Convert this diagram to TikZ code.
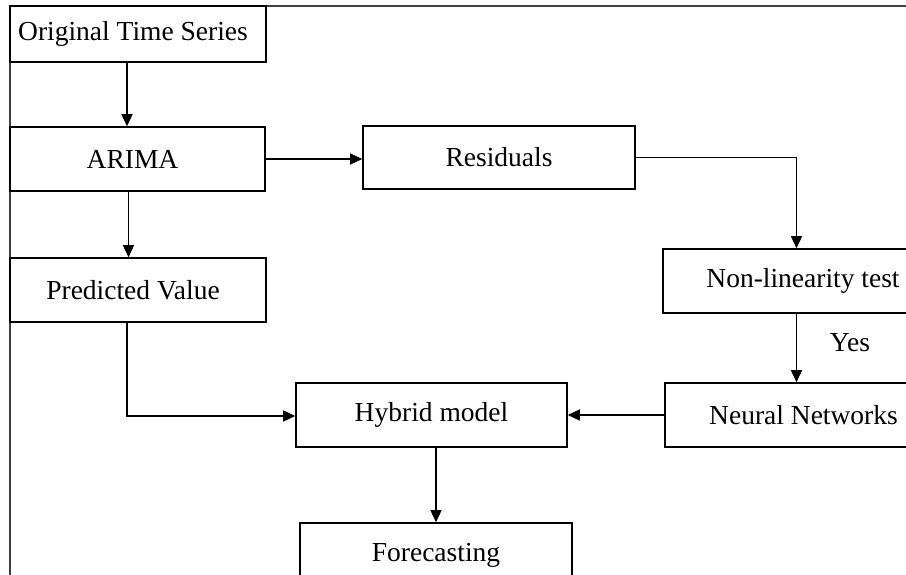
\documentclass[tikz,border=0pt]{standalone}
\usepackage{fontspec}
\setmainfont{Liberation Serif}
\usetikzlibrary{arrows.meta,calc}
\newcommand{\myleftnudge}{\hspace*{-10pt}}
\begin{document}
\begin{tikzpicture}[x=1pt,y=-1pt,
  box/.style={draw,line width=1.6pt,rectangle,inner sep=0pt,
    font=\fontsize{27.5}{31}\selectfont},
  conn/.style={line width=1.5pt},
  arr/.style={conn,-{Triangle[length=12pt,width=11pt]}},
  lbl/.style={font=\fontsize{27.5}{31}\selectfont,inner sep=0pt}]
\clip (0,0) rectangle (906,574);
\fill[white] (0,0) rectangle (906,574);
% frame
\coordinate (fa) at (10,580);
\coordinate (fb) at (10,6);
\coordinate (fc) at (910,6);
\draw[line width=1.5pt,black!75] (fa) -- (fb) -- (fc);
% boxes
\node[box,minimum width=256pt,minimum height=56pt] (ots) at (138,34) {\myleftnudge Original Time Series};
\node[box,minimum width=255pt,minimum height=64pt] (arima) at (137.5,159) {\myleftnudge ARIMA};
\node[box,minimum width=256pt,minimum height=64pt] (pred) at (138,290) {\myleftnudge Predicted Value};
\node[box,minimum width=272pt,minimum height=63pt] (res) at (499,157.5) {Residuals};
\node[box,minimum width=280pt,minimum height=64pt] (nonlin) at (803,281) {Non-linearity test};
\node[box,minimum width=277pt,minimum height=64pt] (nn) at (803.5,415) {Neural Networks};
\node[box,minimum width=271pt,minimum height=64pt] (hyb) at (431.5,415) {Hybrid model};
\node[box,minimum width=272pt,minimum height=64pt] (fore) at (436,555) {Forecasting};
\node[lbl] (yes) at (850,343) {Yes};
% column coordinates
\coordinate (c1) at (127,0);
\coordinate (c2) at (128.5,0);
\coordinate (c3) at (796.5,0);
\coordinate (c4) at (436,0);
\coordinate (r1) at (0,416);
% connectors
\draw[arr] (ots.south -| c1) -- (arima.north -| c1);
\draw[arr] (arima.south -| c2) -- (pred.north -| c2);
\draw[arr] (arima.east) -- (arima.east -| res.west);
\draw[arr] (res.east) -| (nonlin.north -| c3);
\draw[arr] (nonlin.south -| c3) -- (nn.north -| c3);
\draw[arr] (nn.west) -- (nn.west -| hyb.east);
\draw[arr] (pred.south -| c1) |- (hyb.west |- r1);
\draw[arr] (hyb.south -| c4) -- (fore.north -| c4);
\end{tikzpicture}
\end{document}
